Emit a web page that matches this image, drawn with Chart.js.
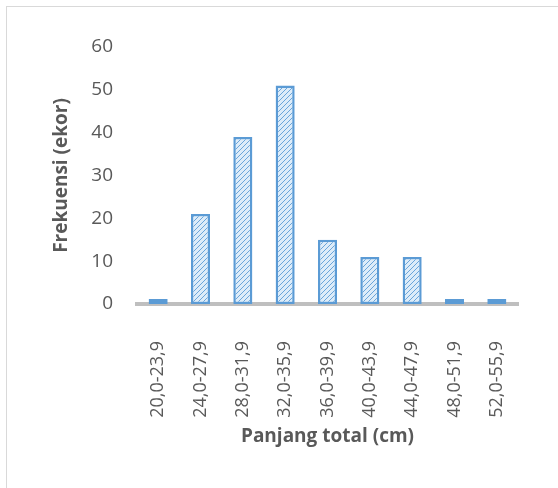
<!DOCTYPE html>
<html>
<head>
<meta charset="utf-8">
<script src="https://cdn.jsdelivr.net/npm/chart.js@4.4.0/dist/chart.umd.min.js"></script>
<style>
  html, body { margin: 0; padding: 0; background: #fff; }
  #wrap { position: relative; width: 558px; height: 488px; overflow: hidden; }
  #frame { position: absolute; left: 6px; top: 6px; width: 560px; height: 490px; border: 1px solid #d9d9d9; box-sizing: border-box; }
  #chart { position: absolute; left: 0; top: 0; }
</style>
</head>
<body>
<div id="wrap">
  <div id="frame"></div>
  <canvas id="chart" width="558" height="488"></canvas>
</div>
<script>
const kelas = ['20,0-23,9', '24,0-27,9', '28,0-31,9', '32,0-35,9', '36,0-39,9',
               '40,0-43,9', '44,0-47,9', '48,0-51,9', '52,0-55,9'];
const frekuensi = [0, 21, 39, 51, 15, 11, 11, 0, 0];
const yTicks = [0, 10, 20, 30, 40, 50, 60];

// diagonal hatch fill like the Excel pattern
function makeHatch() {
    const c = document.createElement('canvas');
    c.width = 5; c.height = 5;
    const g = c.getContext('2d');
    g.fillStyle = '#ddecf9';
    g.fillRect(0, 0, 5, 5);
    g.strokeStyle = '#6aa5da';
    g.lineWidth = 1;
    g.beginPath();
    g.moveTo(-1, 6); g.lineTo(6, -1);
    g.moveTo(-1, 1); g.lineTo(1, -1);
    g.moveTo(4, 6); g.lineTo(6, 4);
    g.stroke();
    return g.createPattern(c, 'repeat');
}

const ctx = document.getElementById('chart').getContext('2d');
new Chart(ctx, {
    type: 'bar',
    data: {
        labels: kelas,
        datasets: [{
            data: frekuensi,
            backgroundColor: makeHatch(),
            borderColor: '#5b9bd5',
            borderWidth: 2.5,
            borderSkipped: false,
            minBarLength: 5,
            barPercentage: 0.45,
            categoryPercentage: 1
        }]
    },
    options: {
        responsive: false,
        devicePixelRatio: 1,
        animation: false,
        layout: { padding: { top: 47, right: 40, left: 0, bottom: 0 } },
        plugins: { legend: { display: false }, tooltip: { enabled: false } },
        scales: {
            x: {
                afterFit: s => { s.height = 184; },
                grid: { display: false, drawTicks: false },
                border: { display: true, color: '#bfbfbf', width: 4 },
                ticks: {
                    color: '#595959',
                    font: { family: 'Open Sans', size: 18 },
                    minRotation: 90, maxRotation: 90,
                    padding: 37
                },
                title: {
                    display: true,
                    text: 'Panjang total (cm)',
                    color: '#595959',
                    font: { family: 'Open Sans', size: 19, weight: 'bold' },
                    padding: { bottom: 40, top: 0 }
                }
            },
            y: {
                min: 0, max: 60,
                afterFit: s => { s.width = 137; },
                afterBuildTicks: s => { s.ticks = yTicks.map(v => ({ value: v })); },
                grid: { display: false, drawTicks: false },
                border: { display: false },
                ticks: {
                    color: '#595959',
                    font: { family: 'Open Sans', size: 19 },
                    padding: 24
                },
                title: {
                    display: true,
                    text: 'Frekuensi (ekor)',
                    color: '#595959',
                    font: { family: 'Open Sans', size: 19, weight: 'bold' },
                    padding: { top: 50, bottom: 0 }
                }
            }
        }
    }
});
</script>
</body>
</html>
